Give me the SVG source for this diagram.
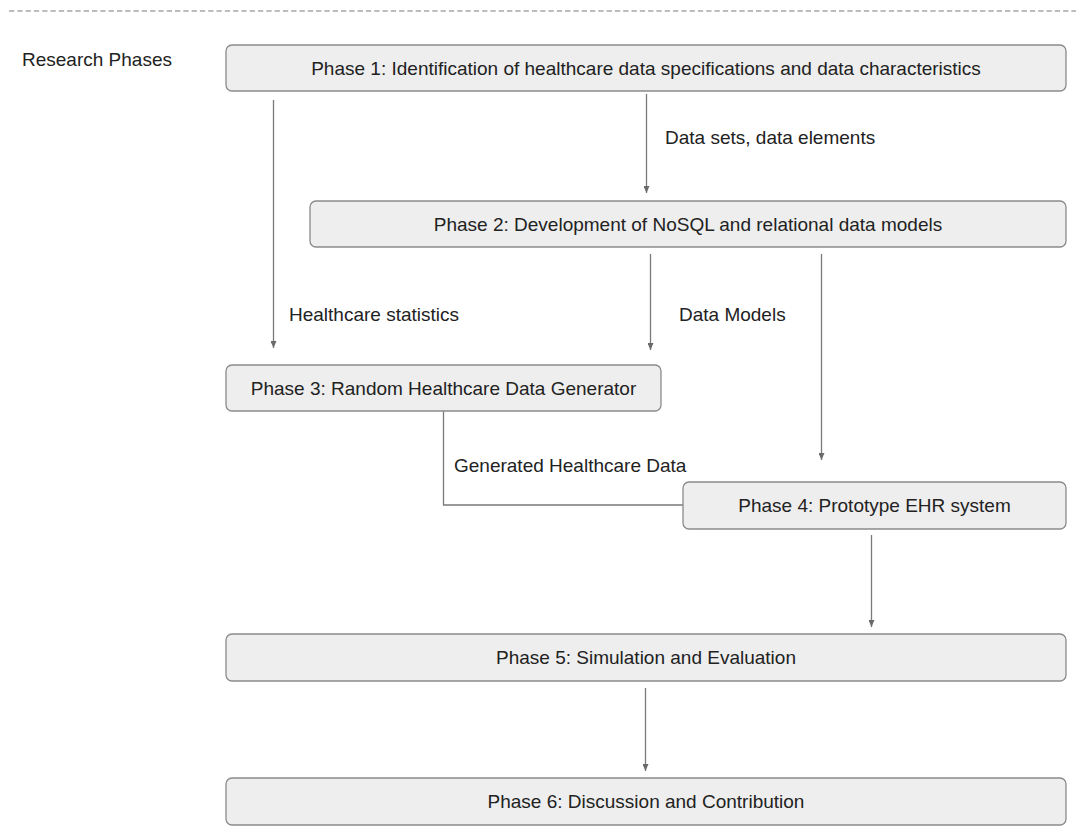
<svg xmlns="http://www.w3.org/2000/svg" width="1076" height="836" viewBox="0 0 1076 836">
  <style>
    .box { fill: #eeeeee; stroke: #8a8a8a; stroke-width: 1.3; }
    .lbl { font-family: "Liberation Sans", Arial, sans-serif; font-size: 19px; fill: #222222; }
    .mid { text-anchor: middle; }
    .edge { fill: none; stroke: #7a7a7a; stroke-width: 1.3; }
  </style>
  <defs>
    <!-- small filled triangle, drawn pointing along +x so orient="auto" turns it with the line -->
    <marker id="arrow" viewBox="0 0 7 6" refX="7" refY="3" markerWidth="7" markerHeight="6" markerUnits="userSpaceOnUse" orient="auto">
      <path d="M0,0 L7,3 L0,6 Z" fill="#6a6a6a"/>
    </marker>
  </defs>
  <rect width="1076" height="836" fill="#ffffff"/>

  <!-- header rule -->
  <line x1="9" y1="11" x2="1076" y2="11" stroke="#a8a8a8" stroke-width="1.3" stroke-dasharray="5.3 3"/>
  <text class="lbl" x="22" y="66">Research Phases</text>

  <!-- connectors -->
  <g id="connectors">
    <line class="edge" x1="273.5" y1="100" x2="273.5" y2="348" marker-end="url(#arrow)"/>
    <line class="edge" x1="646.5" y1="94" x2="646.5" y2="193" marker-end="url(#arrow)"/>
    <line class="edge" x1="650.5" y1="254" x2="650.5" y2="350" marker-end="url(#arrow)"/>
    <line class="edge" x1="821.5" y1="254" x2="821.5" y2="460" marker-end="url(#arrow)"/>
    <polyline class="edge" points="443.5,411 443.5,505 683,505"/>
    <line class="edge" x1="871.5" y1="535" x2="871.5" y2="627" marker-end="url(#arrow)"/>
    <line class="edge" x1="645.5" y1="688" x2="645.5" y2="771" marker-end="url(#arrow)"/>
    <text class="lbl" x="665" y="144">Data sets, data elements</text>
    <text class="lbl" x="289" y="321">Healthcare statistics</text>
    <text class="lbl" x="679" y="321">Data Models</text>
    <text class="lbl" x="454" y="472">Generated Healthcare Data</text>
  </g>

  <g id="phase1">
    <rect class="box" x="226" y="45" width="840" height="46" rx="6"/>
    <text class="lbl mid" x="646" y="74.5">Phase 1: Identification of healthcare data specifications and data characteristics</text>
  </g>
  <g id="phase2">
    <rect class="box" x="310" y="201" width="756" height="46" rx="6"/>
    <text class="lbl mid" x="688" y="230.5">Phase 2: Development of NoSQL and relational data models</text>
  </g>
  <g id="phase3">
    <rect class="box" x="226" y="365" width="435" height="46" rx="6"/>
    <text class="lbl mid" x="443.5" y="394.5">Phase 3: Random Healthcare Data Generator</text>
  </g>
  <g id="phase4">
    <rect class="box" x="683" y="482" width="383" height="47" rx="6"/>
    <text class="lbl mid" x="874.5" y="512">Phase 4: Prototype EHR system</text>
  </g>
  <g id="phase5">
    <rect class="box" x="226" y="634" width="840" height="47" rx="6"/>
    <text class="lbl mid" x="646" y="664">Phase 5: Simulation and Evaluation</text>
  </g>
  <g id="phase6">
    <rect class="box" x="226" y="778" width="840" height="47" rx="6"/>
    <text class="lbl mid" x="646" y="808">Phase 6: Discussion and Contribution</text>
  </g>
</svg>
